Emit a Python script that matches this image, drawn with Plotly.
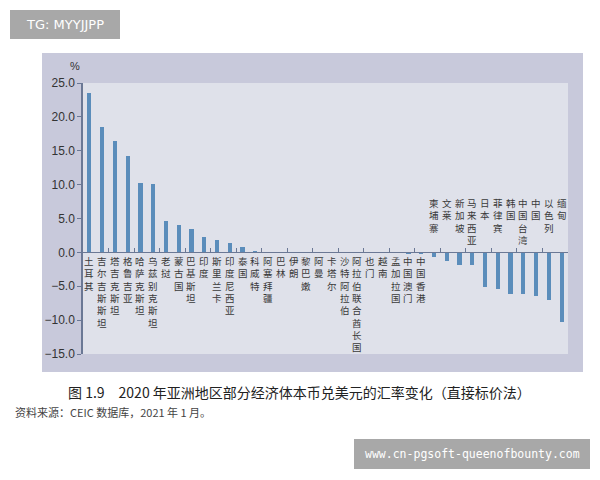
import plotly.graph_objects as go

categories = ["土耳其", "吉尔吉斯斯坦", "塔吉克斯坦", "格鲁吉亚", "哈萨克斯坦", "乌兹别克斯坦",
              "老挝", "蒙古国", "巴基斯坦", "印度", "斯里兰卡", "印度尼西亚", "泰国", "科威特",
              "阿塞拜疆", "巴林", "伊朗", "黎巴嫩", "阿曼", "卡塔尔", "沙特阿拉伯",
              "阿拉伯联合酋长国", "也门", "越南", "孟加拉国", "中国澳门", "中国香港",
              "柬埔寨", "文莱", "新加坡", "马来西亚", "日本", "菲律宾", "韩国", "中国台湾",
              "中国", "以色列", "缅甸"]
values = [23.5, 18.5, 16.5, 14.2, 10.3, 10.1,
          4.6, 4.1, 3.4, 2.3, 1.9, 1.4, 0.8, 0.1,
          0.0, 0.0, 0.0, 0.0, 0.0, 0.0, 0.0,
          0.0, 0.0, 0.0, 0.0, -0.1, -0.2,
          -0.7, -1.2, -1.8, -1.9, -5.1, -5.4, -6.1, -6.2,
          -6.4, -7.0, -10.3]
y_ticks = [25, 20, 15, 10, 5, 0, -5, -10, -15]

title_text = "图 1.9　2020 年亚洲地区部分经济体本币兑美元的汇率变化（直接标价法）"
source_text = "资料来源：CEIC 数据库，2021 年 1 月。"

W, H = 600, 480
ML, MR, MT, MB = 83, 32, 83, 126
PW, PH = W - ML - MR, H - MT - MB


def px(x):
    return (x - ML) / PW


def py(y):
    return (H - MB - y) / PH


AXIS = "#6b7895"
CJK = "Noto Sans CJK SC"

fig = go.Figure()
fig.add_trace(go.Bar(x=categories, y=values, marker=dict(color="#5b8dbb", line=dict(width=0)),
                     width=0.33, hoverinfo="x+y"))

shapes = [
    dict(type="rect", xref="paper", yref="paper", x0=px(42), x1=px(583), y0=py(372), y1=py(53),
         fillcolor="#c8c9db", line=dict(width=0), layer="below"),
    dict(type="rect", xref="paper", yref="paper", x0=0, x1=1, y0=0, y1=1,
         fillcolor="#dfe1ea", line=dict(width=0), layer="below"),
    dict(type="rect", xref="paper", yref="paper", x0=px(10), x1=px(120), y0=py(39), y1=py(10),
         fillcolor="#a8a8a8", line=dict(width=0)),
    dict(type="rect", xref="paper", yref="paper", x0=px(354), x1=px(590), y0=py(469), y1=py(439),
         fillcolor="#a8a8a8", line=dict(width=0)),
]

annotations = []
for cat, v in zip(categories, values):
    above = v < -0.5
    annotations.append(dict(x=cat, y=0, xref="x", yref="y", text="<br>".join(cat), showarrow=False,
                            xanchor="center", yanchor="top", yshift=57 if above else -1,
                            borderpad=0,
                            font=dict(family=CJK, size=9.5, color="#3a3a3a")))

annotations += [
    dict(x=px(75), y=py(66), xref="paper", yref="paper", text="%", showarrow=False,
         xanchor="center", yanchor="middle", font=dict(family="Liberation Sans", size=11, color="#333")),
    dict(x=px(66), y=py(392), xref="paper", yref="paper", text=title_text, showarrow=False,
         xanchor="left", yanchor="middle", font=dict(family=CJK, size=14, color="#222")),
    dict(x=px(13), y=py(412), xref="paper", yref="paper", text=source_text, showarrow=False,
         xanchor="left", yanchor="middle", font=dict(family=CJK, size=11, color="#444")),
    dict(x=px(65), y=py(24.5), xref="paper", yref="paper", text="TG: MYYJJPP", showarrow=False,
         xanchor="center", yanchor="middle", font=dict(family="DejaVu Sans", size=13, color="white")),
    dict(x=px(472), y=py(454), xref="paper", yref="paper", text="www.cn-pgsoft-queenofbounty.com",
         showarrow=False, xanchor="center", yanchor="middle",
         font=dict(family="DejaVu Sans Mono", size=11.5, color="white")),
]

fig.update_layout(
    width=W, height=H,
    margin=dict(l=ML, r=MR, t=MT, b=MB, pad=0),
    paper_bgcolor="white", plot_bgcolor="rgba(0,0,0,0)",
    showlegend=False, bargap=0,
    shapes=shapes, annotations=annotations,
    xaxis=dict(type="category", range=[-0.5, len(categories) - 0.5], anchor="free",
               position=(0 - y_ticks[-1]) / (y_ticks[0] - y_ticks[-1]),
               showticklabels=False, ticks="inside", tickson="boundaries", ticklen=4,
               tickcolor=AXIS, showline=True, linecolor=AXIS, linewidth=1,
               showgrid=False, zeroline=False, fixedrange=True),
    yaxis=dict(range=[y_ticks[-1], y_ticks[0]], tickvals=y_ticks, tickformat=".1f",
               ticks="outside", ticklen=4, tickcolor=AXIS, showline=True, linecolor=AXIS,
               linewidth=1.5, showgrid=False, zeroline=False,
               tickfont=dict(family="Liberation Sans", size=12, color="#333")),
)

fig.write_html("out.html", config={"displayModeBar": False},
               post_script="document.body.style.margin='0';")
